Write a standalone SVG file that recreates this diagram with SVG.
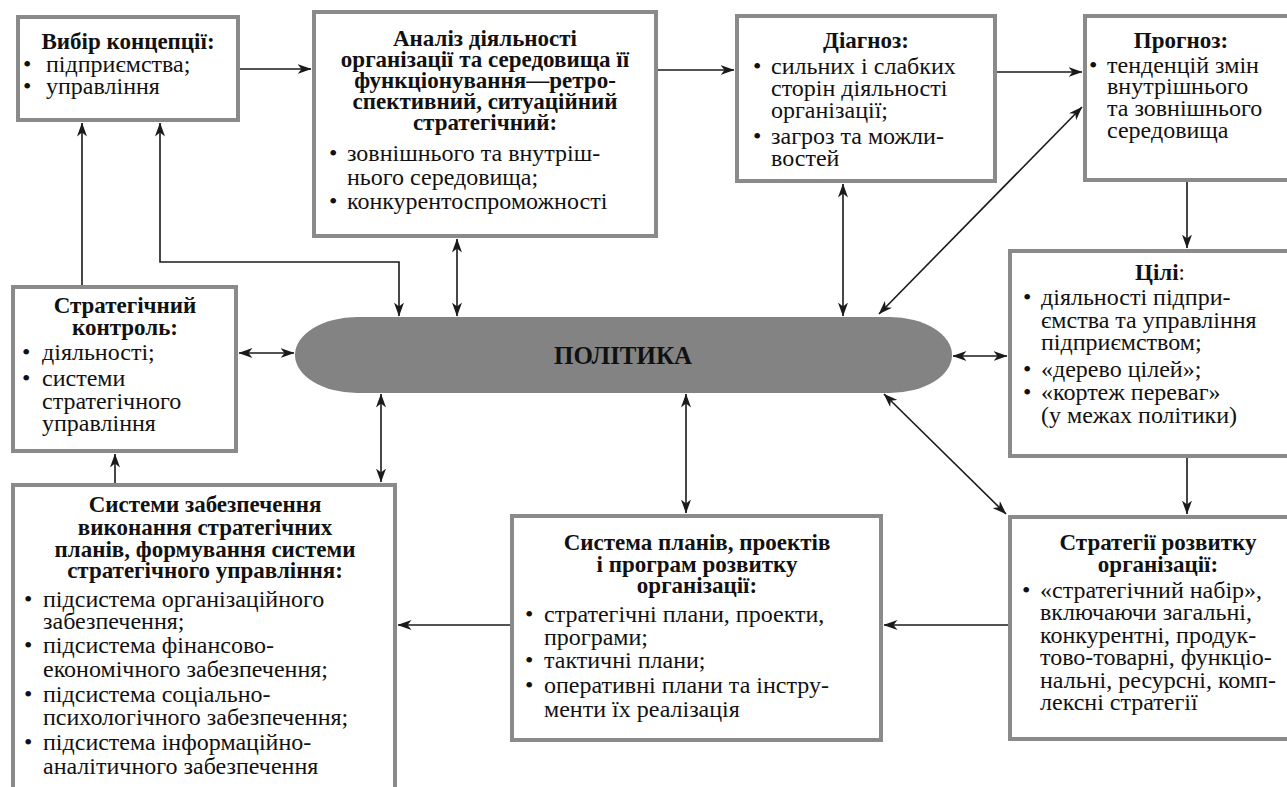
<svg xmlns="http://www.w3.org/2000/svg" width="1287" height="787" viewBox="0 0 1287 787" font-family="Times New Roman, Liberation Serif, serif">
<defs>
<marker id="ah" viewBox="0 0 14 10" refX="13.5" refY="5" markerWidth="14" markerHeight="10" orient="auto-start-reverse" markerUnits="userSpaceOnUse">
<path d="M0,0 L14,5 L0,10 L4,5 z" fill="#1a1a1a"/>
</marker>
</defs>
<rect width="1287" height="787" fill="#ffffff"/>
<g id="connectors" fill="none" stroke="#1a1a1a" stroke-width="1.6">
<line x1="240" y1="69" x2="311" y2="69" marker-end="url(#ah)"/>
<line x1="658" y1="70" x2="734" y2="70" marker-end="url(#ah)"/>
<line x1="997" y1="72" x2="1082" y2="72" marker-end="url(#ah)"/>
<line x1="879" y1="314" x2="1082" y2="107" marker-start="url(#ah)" marker-end="url(#ah)"/>
<line x1="843" y1="184" x2="843" y2="316" marker-start="url(#ah)" marker-end="url(#ah)"/>
<line x1="457" y1="239" x2="457" y2="316" marker-start="url(#ah)" marker-end="url(#ah)"/>
<polyline points="160,123 160,262 399,262 399,316" marker-start="url(#ah)" marker-end="url(#ah)"/>
<line x1="82" y1="285" x2="82" y2="123" marker-end="url(#ah)"/>
<line x1="239" y1="353" x2="294" y2="353" marker-start="url(#ah)" marker-end="url(#ah)"/>
<line x1="115" y1="483" x2="115" y2="454" marker-end="url(#ah)"/>
<line x1="381" y1="394" x2="381" y2="482" marker-start="url(#ah)" marker-end="url(#ah)"/>
<line x1="686" y1="394" x2="686" y2="513" marker-start="url(#ah)" marker-end="url(#ah)"/>
<line x1="510" y1="625" x2="398" y2="625" marker-end="url(#ah)"/>
<line x1="1008" y1="625" x2="884" y2="625" marker-end="url(#ah)"/>
<line x1="884" y1="394" x2="1006" y2="514" marker-start="url(#ah)" marker-end="url(#ah)"/>
<line x1="1187" y1="182" x2="1187" y2="248" marker-end="url(#ah)"/>
<line x1="1187" y1="458" x2="1187" y2="514" marker-end="url(#ah)"/>
<line x1="953" y1="356" x2="1007" y2="356" marker-start="url(#ah)" marker-end="url(#ah)"/>
</g>
<g id="policy">
<rect x="295" y="317" width="657" height="76" rx="62" ry="38" fill="#838383"/>
<text x="623" y="364" font-family="Times New Roman, Liberation Serif, serif" font-size="25" font-weight="bold" text-anchor="middle" fill="#111" textLength="138" lengthAdjust="spacingAndGlyphs">ПОЛІТИКА</text>
</g>
<g id="concept" fill="#111" font-family="Times New Roman, Liberation Serif, serif">
<rect x="18" y="17" width="220" height="103" fill="#ffffff" stroke="#8a8a8a" stroke-width="4"/>
<text x="128" y="49" font-size="23" font-weight="bold" text-anchor="middle">Вибір концепції:</text>
<text y="72" font-size="24"><tspan x="23">•</tspan><tspan x="46">підприємства;</tspan></text>
<text y="94" font-size="24"><tspan x="23">•</tspan><tspan x="46">управління</tspan></text>
</g>
<g id="analysis" fill="#111" font-family="Times New Roman, Liberation Serif, serif">
<rect x="314" y="12" width="342" height="224" fill="#ffffff" stroke="#8a8a8a" stroke-width="4"/>
<text x="485" y="46" font-size="23" font-weight="bold" text-anchor="middle">Аналіз діяльності</text>
<text x="485" y="67" font-size="23" font-weight="bold" text-anchor="middle">організації та середовища її</text>
<text x="485" y="88" font-size="23" font-weight="bold" text-anchor="middle">функціонування—ретро-</text>
<text x="485" y="109" font-size="23" font-weight="bold" text-anchor="middle">спективний, ситуаційний</text>
<text x="485" y="130" font-size="23" font-weight="bold" text-anchor="middle">стратегічний:</text>
<text y="161" font-size="24"><tspan x="329">•</tspan><tspan x="347">зовнішнього та внутріш-</tspan></text>
<text x="347" y="185" font-size="24">нього середовища;</text>
<text y="209" font-size="24"><tspan x="329">•</tspan><tspan x="347">конкурентоспроможності</tspan></text>
</g>
<g id="diagnosis" fill="#111" font-family="Times New Roman, Liberation Serif, serif">
<rect x="737" y="16" width="258" height="165" fill="#ffffff" stroke="#8a8a8a" stroke-width="4"/>
<text x="866" y="48" font-size="23" font-weight="bold" text-anchor="middle">Діагноз:</text>
<text y="74" font-size="24"><tspan x="753">•</tspan><tspan x="771">сильних і слабких</tspan></text>
<text x="771" y="96" font-size="24">сторін діяльності</text>
<text x="771" y="118" font-size="24">організації;</text>
<text y="144" font-size="24"><tspan x="753">•</tspan><tspan x="771">загроз та можли-</tspan></text>
<text x="771" y="166" font-size="24">востей</text>
</g>
<g id="forecast" fill="#111" font-family="Times New Roman, Liberation Serif, serif">
<rect x="1085" y="16" width="215" height="164" fill="#ffffff" stroke="#8a8a8a" stroke-width="4"/>
<text x="1181" y="48" font-size="23" font-weight="bold" text-anchor="middle">Прогноз:</text>
<text y="73" font-size="24"><tspan x="1089">•</tspan><tspan x="1107">тенденцій змін</tspan></text>
<text x="1107" y="94" font-size="24">внутрішнього</text>
<text x="1107" y="116" font-size="24">та зовнішнього</text>
<text x="1107" y="138" font-size="24">середовища</text>
</g>
<g id="control" fill="#111" font-family="Times New Roman, Liberation Serif, serif">
<rect x="13" y="287" width="223" height="164" fill="#ffffff" stroke="#8a8a8a" stroke-width="4"/>
<text x="125" y="313" font-size="23" font-weight="bold" text-anchor="middle">Стратегічний</text>
<text x="125" y="335" font-size="23" font-weight="bold" text-anchor="middle">контроль:</text>
<text y="360" font-size="24"><tspan x="22">•</tspan><tspan x="42">діяльності;</tspan></text>
<text y="386" font-size="24"><tspan x="22">•</tspan><tspan x="42">системи</tspan></text>
<text x="42" y="409" font-size="24">стратегічного</text>
<text x="42" y="431" font-size="24">управління</text>
</g>
<g id="goals" fill="#111" font-family="Times New Roman, Liberation Serif, serif">
<rect x="1010" y="251" width="290" height="205" fill="#ffffff" stroke="#8a8a8a" stroke-width="4"/>
<text x="1160" y="280" font-size="23" font-weight="bold" text-anchor="middle">Цілі<tspan font-weight="normal">:</tspan></text>
<text y="305" font-size="24"><tspan x="1023">•</tspan><tspan x="1041">діяльності підпри-</tspan></text>
<text x="1041" y="328" font-size="24">ємства та управління</text>
<text x="1041" y="350" font-size="24">підприємством;</text>
<text y="377" font-size="24"><tspan x="1023">•</tspan><tspan x="1041">«дерево цілей»;</tspan></text>
<text y="400" font-size="24"><tspan x="1023">•</tspan><tspan x="1041">«кортеж переваг»</tspan></text>
<text x="1041" y="423" font-size="24">(у межах політики)</text>
</g>
<g id="support" fill="#111" font-family="Times New Roman, Liberation Serif, serif">
<rect x="13" y="485" width="382" height="320" fill="#ffffff" stroke="#8a8a8a" stroke-width="4"/>
<text x="205" y="512" font-size="23" font-weight="bold" text-anchor="middle">Системи забезпечення</text>
<text x="205" y="535" font-size="23" font-weight="bold" text-anchor="middle">виконання стратегічних</text>
<text x="205" y="557" font-size="23" font-weight="bold" text-anchor="middle">планів, формування системи</text>
<text x="205" y="578" font-size="23" font-weight="bold" text-anchor="middle">стратегічного управління:</text>
<text y="607" font-size="24"><tspan x="24">•</tspan><tspan x="43">підсистема організаційного</tspan></text>
<text x="43" y="629" font-size="24">забезпечення;</text>
<text y="653" font-size="24"><tspan x="24">•</tspan><tspan x="43">підсистема фінансово-</tspan></text>
<text x="43" y="677" font-size="24">економічного забезпечення;</text>
<text y="702" font-size="24"><tspan x="24">•</tspan><tspan x="43">підсистема соціально-</tspan></text>
<text x="43" y="725" font-size="24">психологічного забезпечення;</text>
<text y="750" font-size="24"><tspan x="24">•</tspan><tspan x="43">підсистема інформаційно-</tspan></text>
<text x="43" y="774" font-size="24">аналітичного забезпечення</text>
</g>
<g id="plans" fill="#111" font-family="Times New Roman, Liberation Serif, serif">
<rect x="512" y="516" width="369" height="224" fill="#ffffff" stroke="#8a8a8a" stroke-width="4"/>
<text x="697" y="550" font-size="23" font-weight="bold" text-anchor="middle">Система планів, проектів</text>
<text x="697" y="572" font-size="23" font-weight="bold" text-anchor="middle">і програм розвитку</text>
<text x="697" y="593" font-size="23" font-weight="bold" text-anchor="middle">організації:</text>
<text y="622" font-size="24"><tspan x="525">•</tspan><tspan x="544">стратегічні плани, проекти,</tspan></text>
<text x="544" y="645" font-size="24">програми;</text>
<text y="668" font-size="24"><tspan x="525">•</tspan><tspan x="544">тактичні плани;</tspan></text>
<text y="693" font-size="24"><tspan x="525">•</tspan><tspan x="544">оперативні плани  та інстру-</tspan></text>
<text x="544" y="717" font-size="24">менти їх реалізація</text>
</g>
<g id="strategies" fill="#111" font-family="Times New Roman, Liberation Serif, serif">
<rect x="1010" y="517" width="290" height="222" fill="#ffffff" stroke="#8a8a8a" stroke-width="4"/>
<text x="1158" y="550" font-size="23" font-weight="bold" text-anchor="middle">Стратегії розвитку</text>
<text x="1158" y="572" font-size="23" font-weight="bold" text-anchor="middle">організації:</text>
<text y="598" font-size="24"><tspan x="1022">•</tspan><tspan x="1040">«стратегічний набір»,</tspan></text>
<text x="1040" y="620" font-size="24">включаючи загальні,</text>
<text x="1040" y="643" font-size="24">конкурентні, продук-</text>
<text x="1040" y="665" font-size="24">тово-товарні, функціо-</text>
<text x="1040" y="688" font-size="24">нальні, ресурсні, комп-</text>
<text x="1040" y="710" font-size="24">лексні стратегії</text>
</g>
</svg>
